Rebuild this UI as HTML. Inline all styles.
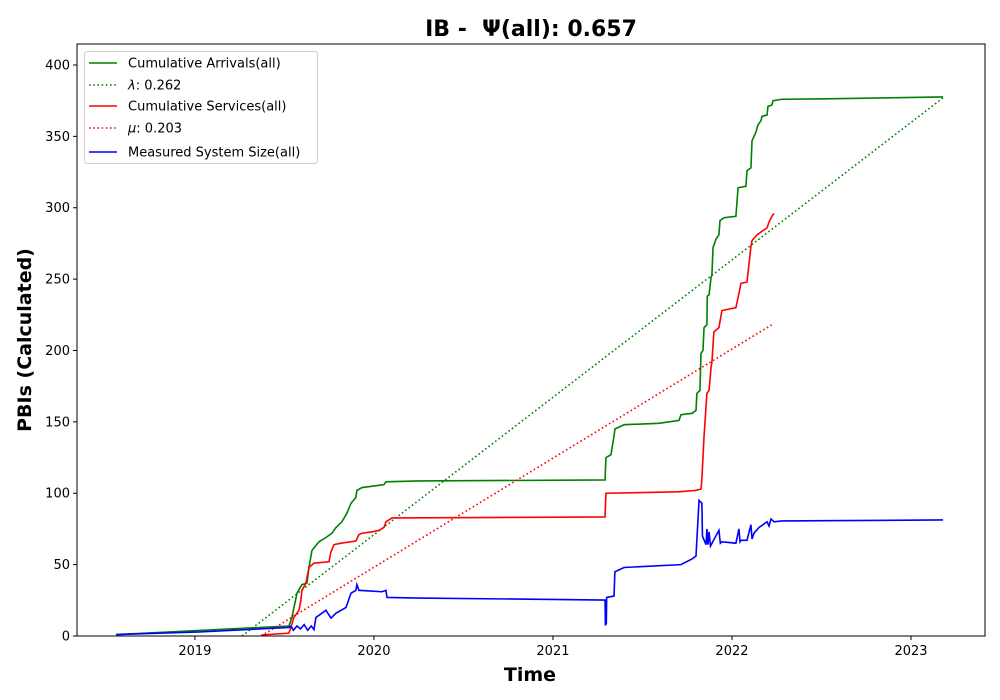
<!DOCTYPE html>
<html><head><meta charset="utf-8"><style>
html,body{margin:0;padding:0;background:#fff;}
svg{display:block;font-family:"DejaVu Sans","Liberation Sans",sans-serif;}
</style></head><body>
<svg id="chart" width="1000" height="700" viewBox="0 0 1000 700"></svg>
<script>
const yTicks=[0,50,100,150,200,250,300,350,400];
const xTicks=[2019,2020,2021,2022,2023];
const arrivalsX=[2018.56,2019.525,2019.542,2019.570,2019.598,2019.626,2019.637,2019.654,2019.693,2019.732,2019.765,2019.788,2019.821,2019.849,2019.872,2019.899,2019.905,2019.933,2020.056,2020.067,2020.251,2021.291,2021.296,2021.324,2021.341,2021.346,2021.397,2021.592,2021.704,2021.715,2021.777,2021.799,2021.804,2021.821,2021.827,2021.838,2021.844,2021.860,2021.862,2021.872,2021.883,2021.888,2021.894,2021.911,2021.927,2021.933,2021.955,2022.022,2022.034,2022.078,2022.084,2022.106,2022.112,2022.123,2022.134,2022.145,2022.162,2022.168,2022.196,2022.201,2022.223,2022.229,2022.279,2022.486,2023.179];
const arrivalsY=[1,7,13,30,36,37,48,60,66,69,72,76,80,86,93,97,102,104,106,108,108.6,109.3,125,127,140,145,148,149,151,155,156,158,170,172,198,200,216,218,238,239,251,253,272,278,281,291,293,294,314,315,326,328,347,350,353,358,361,364,365,371,372,375,376,376.2,377.6];
const servicesX=[2019.37,2019.525,2019.536,2019.553,2019.581,2019.592,2019.598,2019.620,2019.637,2019.665,2019.749,2019.760,2019.777,2019.816,2019.899,2019.916,2019.933,2019.989,2020.028,2020.056,2020.067,2020.101,2021.291,2021.296,2021.700,2021.800,2021.827,2021.832,2021.844,2021.860,2021.872,2021.883,2021.888,2021.899,2021.927,2021.944,2022.022,2022.039,2022.050,2022.084,2022.106,2022.112,2022.140,2022.162,2022.196,2022.207,2022.223,2022.235];
const servicesY=[0.7,2,6,13,18,25,32,37,48,51,52,59,64,65,66.5,71,72,73,74,76,80,82.7,83.4,100,101,102,103,110,140,170,172,188,192,213,216,228,230,240,247,248,273,277,281,283,286,290,294,296];
const sizeX=[2018.56,2019.022,2019.525,2019.536,2019.55,2019.57,2019.59,2019.61,2019.63,2019.65,2019.665,2019.676,2019.732,2019.760,2019.788,2019.844,2019.872,2019.899,2019.905,2019.916,2020.045,2020.067,2020.073,2020.251,2021.291,2021.293,2021.298,2021.30,2021.341,2021.346,2021.397,2021.715,2021.777,2021.799,2021.816,2021.832,2021.835,2021.855,2021.86,2021.866,2021.872,2021.88,2021.888,2021.927,2021.935,2021.944,2022.022,2022.039,2022.045,2022.050,2022.084,2022.106,2022.112,2022.123,2022.151,2022.196,2022.207,2022.218,2022.235,2022.279,2023.179];
const sizeY=[1,2.8,6,7,4,7,5,8,4,7,4.5,13,18,12.5,16,20,30,32,36,32,31,32,27,26.6,25.2,8,8.5,27,28,45,48,50,54,56,95,93,70,64,75,64,73,63,65,74,65,66,65,75,66,67,67,78,68,72,76,80,77,82,80,80.6,81.3];
const lambdaX=[2019.263,2023.179];
const lambdaY=[0,377];
const muX=[2019.37,2022.235];
const muY=[0,219];

const NS="http://www.w3.org/2000/svg";
const svg=document.getElementById('chart');
const L=77,R=985,T=44,B=636;
const xMin=2018.3413,xMax=2023.4134,yMin=0,yMax=414.7;
function sx(v){return L+(v-xMin)/(xMax-xMin)*(R-L);}
function sy(v){return B-(v-yMin)/(yMax-yMin)*(B-T);}
function mk(tag,attrs){const e=document.createElementNS(NS,tag);for(const k in attrs)e.setAttribute(k,attrs[k]);svg.appendChild(e);return e;}

const defs=document.createElementNS(NS,'defs');
defs.innerHTML='<clipPath id="pc"><rect x="77" y="44" width="908" height="592"/></clipPath>';
svg.appendChild(defs);

function line(xs,ys,color,dash,name){
  let d='';
  for(let i=0;i<xs.length;i++)d+=(i?'L':'M')+sx(xs[i]).toFixed(2)+','+sy(ys[i]).toFixed(2);
  const p=mk('path',{d:d,fill:'none',stroke:color,'stroke-width':'1.6','clip-path':'url(#pc)'});
  if(dash){p.setAttribute('stroke-dasharray','1.6,2.6');}
  
  
}
line(arrivalsX,arrivalsY,'#008000',false,'cumulative-arrivals-line');
line(lambdaX,lambdaY,'#008000',true,'lambda-line');
line(servicesX,servicesY,'#ff0000',false,'cumulative-services-line');
line(muX,muY,'#ff0000',true,'mu-line');
line(sizeX,sizeY,'#0000ff',false,'system-size-line');

const fr=mk('rect',{x:L,y:T,width:R-L,height:B-T,fill:'none',stroke:'#000','stroke-width':'1'});



yTicks.forEach(v=>{
  const y=sy(v);
  const t=mk('line',{x1:L-4,x2:L,y1:y,y2:y,stroke:'#000'});
  
  
  const tx=mk('text',{x:L-7,y:y+4.5,'text-anchor':'end','font-size':'13'});
  tx.textContent=v;
  
  
});
xTicks.forEach(v=>{
  const x=sx(v);
  const t=mk('line',{x1:x,x2:x,y1:B,y2:B+4,stroke:'#000'});
  
  
  const tx=mk('text',{x:x,y:B+19,'text-anchor':'middle','font-size':'13'});
  tx.textContent=v;
  
  
});
</script>
<div style="position:absolute;left:0;top:0;width:1000px;height:700px;pointer-events:none;">
<svg width="1000" height="700" style="font-family:'DejaVu Sans','Liberation Sans',sans-serif;">
<text x="531" y="36" text-anchor="middle" font-size="22" font-weight="bold" style="white-space:pre">IB -&#160; Ψ(all): 0.657</text>
<text x="530" y="681" text-anchor="middle" font-size="19" font-weight="bold">Time</text>
<text transform="translate(31,340) rotate(-90)" text-anchor="middle" font-size="19" font-weight="bold">PBIs (Calculated)</text>
<g>
<rect x="84.5" y="51.5" width="233" height="112" rx="3" fill="#fff" fill-opacity="0.85" stroke="#ccc"/>
<g><line x1="89" x2="117" y1="63" y2="63" stroke="#008000" stroke-width="1.6"/><text x="128" y="67.5" font-size="13">Cumulative Arrivals(all)</text></g>
<g><line x1="89" x2="117" y1="85" y2="85" stroke="#008000" stroke-width="1.6" stroke-dasharray="1.6,2.6"/><text x="128" y="89.5" font-size="13"><tspan font-style="italic">λ</tspan>: 0.262</text></g>
<g><line x1="89" x2="117" y1="106" y2="106" stroke="#ff0000" stroke-width="1.6"/><text x="128" y="110.5" font-size="13">Cumulative Services(all)</text></g>
<g><line x1="89" x2="117" y1="128" y2="128" stroke="#ff0000" stroke-width="1.6" stroke-dasharray="1.6,2.6"/><text x="128" y="132.5" font-size="13"><tspan font-style="italic">μ</tspan>: 0.203</text></g>
<g><line x1="89" x2="117" y1="152" y2="152" stroke="#0000ff" stroke-width="1.6"/><text x="128" y="156.5" font-size="13">Measured System Size(all)</text></g>
</g>
</svg>
</div>
</body></html>
